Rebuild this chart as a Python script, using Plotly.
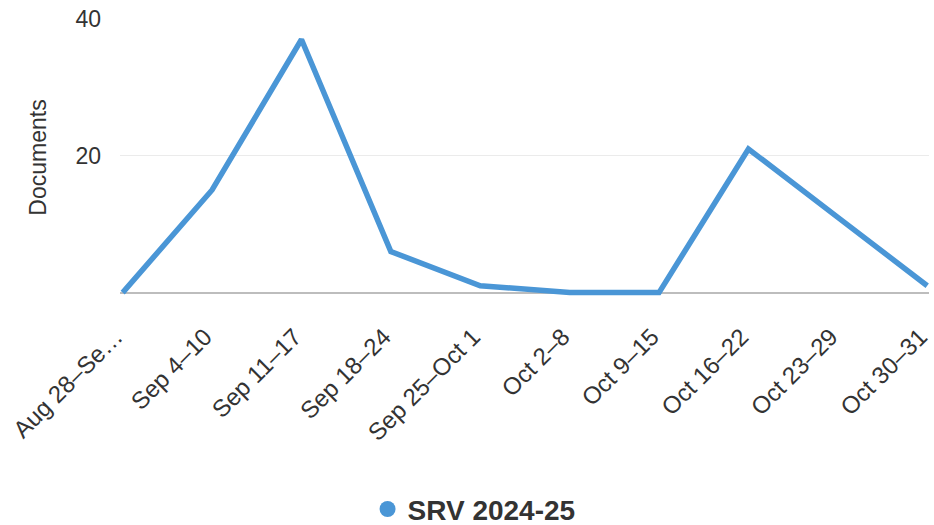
import plotly.graph_objects as go

# Weekly document counts for the SRV 2024-25 series
weeks = ["Aug 28–Se…", "Sep 4–10", "Sep 11–17", "Sep 18–24", "Sep 25–Oct 1",
         "Oct 2–8", "Oct 9–15", "Oct 16–22", "Oct 23–29", "Oct 30–31"]
documents = [0, 15, 37, 6, 1, 0, 0, 21, 11, 1]
series_name = "SRV 2024-25"
y_ticks = [20, 40]

line_color = "#4a96d6"
font_family = "Liberation Sans, Arial, Helvetica, sans-serif"

fig = go.Figure()
fig.add_trace(go.Scatter(
    x=list(range(len(weeks))), y=documents, mode="lines",
    line=dict(color=line_color, width=5.5), showlegend=False,
    hoverinfo="x+y",
))
# Legend entry shown as a round marker
fig.add_trace(go.Scatter(
    x=[None], y=[None], mode="markers", name=series_name,
    marker=dict(color=line_color, size=17, symbol="circle"),
))

fig.update_layout(
    width=934, height=525,
    margin=dict(l=120, r=5, t=19, b=229, autoexpand=False),
    paper_bgcolor="white", plot_bgcolor="white",
    font=dict(family=font_family, color="#333333", size=22),
    legend=dict(
        orientation="h", x=0.306, xanchor="left", y=-0.77, yanchor="middle",
        font=dict(size=28, color="#333333", family=font_family, weight="bold"),
        itemclick=False, bgcolor="rgba(0,0,0,0)", borderwidth=0,
    ),
)

fig.update_xaxes(
    tickmode="array", tickvals=list(range(len(weeks))), ticktext=weeks,
    range=[-0.03, 9.02], tickangle=-45, showgrid=False, zeroline=False,
    showline=False, ticks="", tickfont=dict(size=24, color="#333333"),
    ticklabelstandoff=21, ticklabelshift=-7, ticklabeloverflow="allow",
    automargin=False,
)
fig.update_yaxes(
    range=[-0.5, 40], tickmode="array", tickvals=y_ticks,
    showgrid=True, gridcolor="#ebebeb", gridwidth=1,
    zeroline=True, zerolinecolor="#bdbdbd", zerolinewidth=2,
    showline=False, ticks="", tickfont=dict(size=23, color="#333333"),
    ticklabelstandoff=18, automargin=False,
    title=dict(text="Documents", font=dict(size=23, color="#333333"), standoff=22),
)

fig.write_html("out.html")
